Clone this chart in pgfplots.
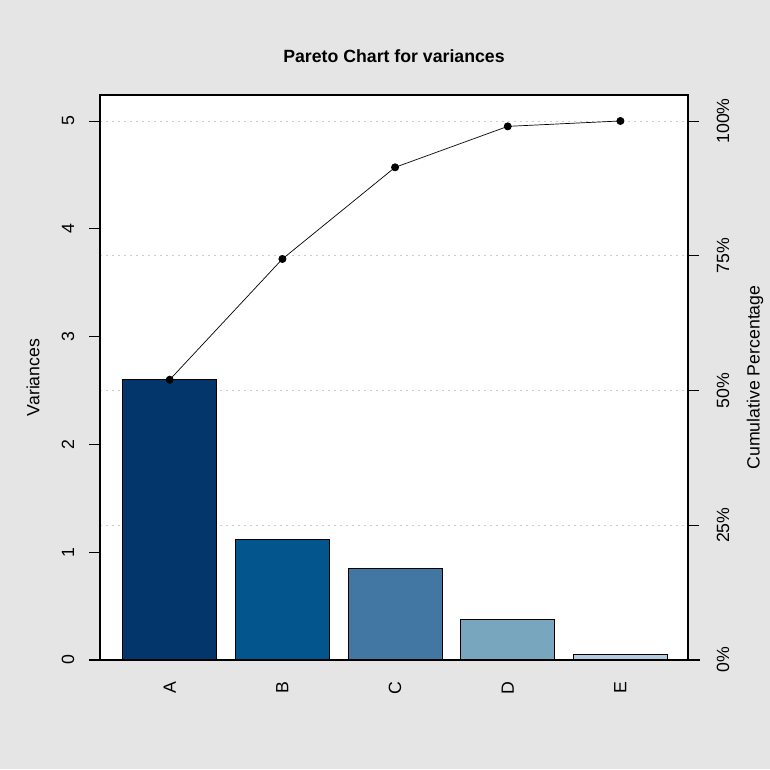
\documentclass[border=0pt]{standalone}
\usepackage{pgfplots}
\pgfplotsset{compat=1.18}
\usepackage{fontspec}
\setmainfont{Liberation Sans}
\definecolor{bg}{HTML}{E5E5E5}
\definecolor{cA}{HTML}{03366A}
\definecolor{cB}{HTML}{03558D}
\definecolor{cC}{HTML}{4277A3}
\definecolor{cD}{HTML}{78A6BE}
\definecolor{cE}{HTML}{B3CDE0}
\newcommand{\fs}{\fontsize{17.7}{21}\selectfont}
\begin{document}
\begin{tikzpicture}[x=1pt,y=1pt]
\fill[bg] (0,0) rectangle (770,769);
% background axis: right scale + grid
\begin{axis}[
  at={(100pt,109pt)}, anchor=south west, scale only axis,
  width=588pt, height=565pt,
  xmin=-0.619, xmax=4.60, ymin=0, ymax=5.241,
  axis background/.style={fill=white},
  axis line style={line width=1.2pt},
  xtick=\empty,
  ytick={0,1.25,2.5,3.75,5},
  yticklabels={0\%,25\%,50\%,75\%,100\%},
  ytick pos=right, tick align=outside, major tick length=11pt,
  tick style={line width=0.8pt, black},
  ymajorgrids, grid style={gray!40, line width=0.8pt, dash pattern=on 2pt off 4pt},
  yticklabel style={font=\fs, anchor=center, inner sep=0pt, xshift=24pt, rotate=90},
  ylabel={Cumulative Percentage},
  every axis y label/.style={at={(axis description cs:1,0.5)}, anchor=center, xshift=67pt, rotate=90, font=\fs},
]
\end{axis}
\begin{axis}[
  at={(100pt,109pt)}, anchor=south west, scale only axis,
  width=588pt, height=565pt,
  xmin=-0.619, xmax=4.60, ymin=0, ymax=5.241,
  clip=false,
  axis line style={line width=1.2pt},
  /pgf/number format/assume math mode=true,
  xtick={0,1,2,3,4}, xticklabels={A,B,C,D,E},
  x tick style={draw=none},
  xticklabel style={font=\fs, anchor=center, inner sep=0pt, yshift=-17pt, rotate=90},
  ytick={0,1,2,3,4,5}, ytick pos=left, tick align=outside, major tick length=11pt,
  y tick style={line width=0.8pt, black},
  yticklabel style={font=\fs, anchor=center, inner sep=0pt, xshift=-21pt, rotate=90},
  ylabel={Variances},
  every axis y label/.style={at={(axis description cs:0,0.5)}, anchor=center, xshift=-67pt, rotate=90, font=\fs},
  title={Pareto Chart for variances},
  title style={at={(axis description cs:0.5,1)}, anchor=center, yshift=33pt, font=\fs\bfseries},
]
\addplot[ybar, bar shift=0pt, bar width=0.834, fill=cA, draw=black, line width=0.6pt] coordinates {(0,2.6)};
\addplot[ybar, bar shift=0pt, bar width=0.834, fill=cB, draw=black, line width=0.6pt] coordinates {(1,1.12)};
\addplot[ybar, bar shift=0pt, bar width=0.834, fill=cC, draw=black, line width=0.6pt] coordinates {(2,0.85)};
\addplot[ybar, bar shift=0pt, bar width=0.834, fill=cD, draw=black, line width=0.6pt] coordinates {(3,0.38)};
\addplot[ybar, bar shift=0pt, bar width=0.834, fill=cE, draw=black, line width=0.6pt] coordinates {(4,0.05)};
\addplot[black, line width=0.7pt, mark=*, mark size=3.6pt, mark options={fill=black}] coordinates {(0,2.6) (1,3.72) (2,4.57) (3,4.95) (4,5.0)};
\draw[line width=1.2pt] (axis description cs:-0.0187,0) -- (axis description cs:1.0204,0);
\end{axis}
\end{tikzpicture}
\end{document}
